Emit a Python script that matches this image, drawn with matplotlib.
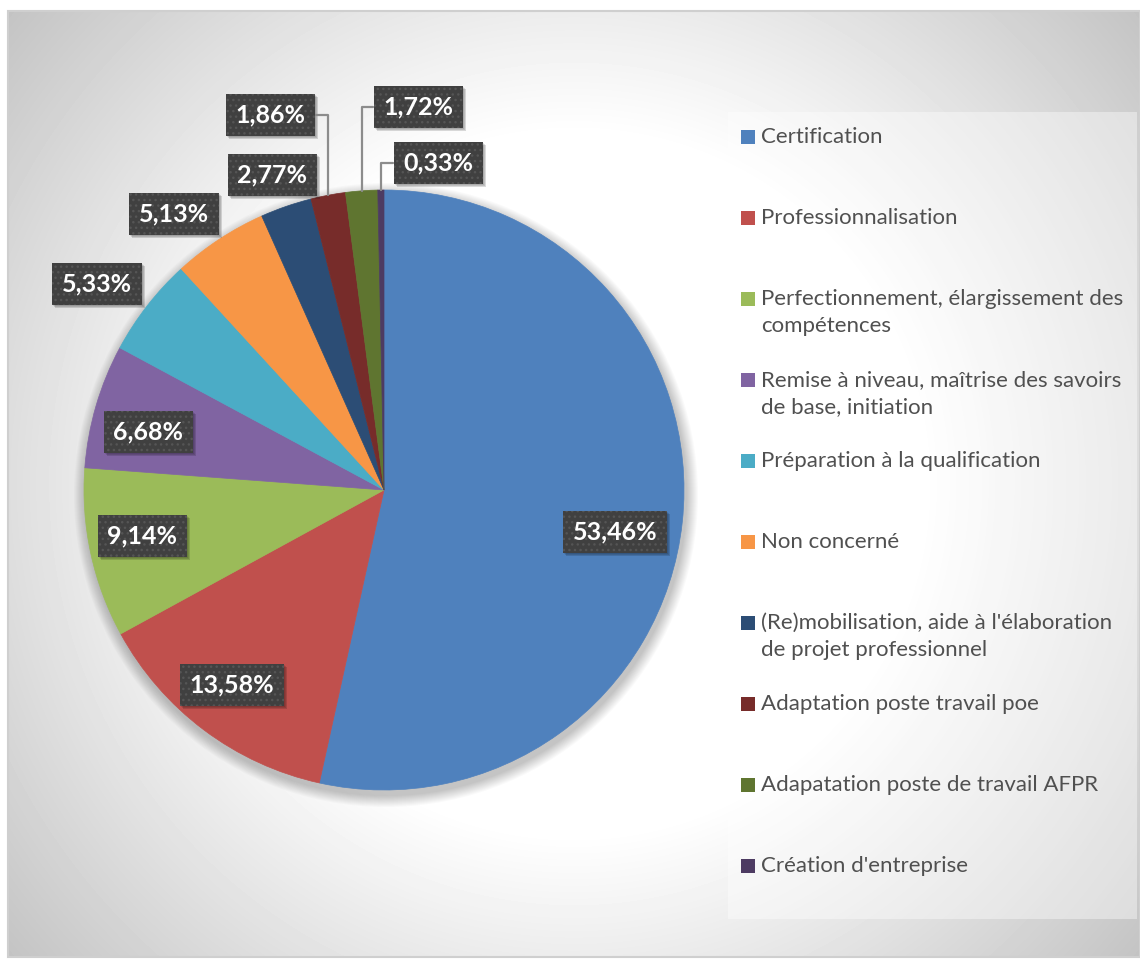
import textwrap
import numpy as np
import matplotlib
matplotlib.use("Agg")
import matplotlib.pyplot as plt
from matplotlib.patches import Rectangle, Circle

categories = [
    "Certification",
    "Professionnalisation",
    "Perfectionnement, élargissement des compétences",
    "Remise à niveau, maîtrise des savoirs de base, initiation",
    "Préparation à la qualification",
    "Non concerné",
    "(Re)mobilisation, aide à l'élaboration de projet professionnel",
    "Adaptation poste travail poe",
    "Adapatation poste de travail AFPR",
    "Création d'entreprise",
]
values = [53.46, 13.58, 9.14, 6.68, 5.33, 5.13, 2.77, 1.86, 1.72, 0.33]
colors = ["#4F81BD", "#C0504D", "#9BBB59", "#8064A2", "#4BACC6",
          "#F79646", "#2C4D75", "#772C2A", "#5F7530", "#4D3B62"]

# label box centres (image pixels) and which labels get a leader line
label_pos = [(615, 532), (232, 685), (142, 536), (148, 432), (97, 284),
             (174, 214), (272, 175), (270, 115), (418, 107), (438, 163)]
leader = [False] * 7 + [True] * 3

W, H = 1140, 963
CX, CY, R = 384, 490, 300

plt.rcParams["font.family"] = ["Lato", "DejaVu Sans"]

fig = plt.figure(figsize=(W / 100, H / 100), dpi=100)
ax = fig.add_axes([0, 0, 1, 1])
ax.set_xlim(0, W)
ax.set_ylim(0, H)

# chart area background: radial gradient
xs = np.arange(8, 1140) + 0.5
ys = np.arange(11, 957) + 0.5
gx, gy = np.meshgrid(xs, ys)
d = np.hypot(gx - 574, gy - 484)
bg = np.clip(255 - 60 * (d - 350) / 390, 195, 255) / 255
ax.imshow(bg, cmap="gray", vmin=0, vmax=1, extent=(8, 1140, H - 957, H - 11),
          origin="upper", aspect="auto", zorder=0, interpolation="bilinear")
ax.add_patch(Rectangle((8, H - 957), 1132, 946, fill=False,
                       edgecolor="#cfcfcf", lw=1.5, zorder=8))

# legend panel
ax.add_patch(Rectangle((728, H - 919), 409, 807, facecolor="white",
                       alpha=0.4, lw=0, zorder=1))

# soft pie shadow
for k in range(12):
    ax.add_patch(Circle((CX + 2, H - CY - 5), R + 12 - k, color="black",
                        alpha=0.018, lw=0, zorder=2))

wedges, _ = ax.pie(values, colors=colors, startangle=90, counterclock=False,
                   radius=R, center=(CX, H - CY),
                   wedgeprops=dict(linewidth=0.5, edgecolor="none"))
for w, c in zip(wedges, colors):
    w.set_edgecolor(c)
    w.set_zorder(3)

labels = []
for w, v, (lx, ly), lead in zip(wedges, values, label_pos, leader):
    ang = np.deg2rad((w.theta1 + w.theta2) / 2)
    edge = (CX + R * np.cos(ang), H - CY + R * np.sin(ang))
    txt = f"{v:.2f}%".replace(".", ",")
    arrow = None
    if lead:
        arrow = dict(arrowstyle="-", color="#8c8c8c", lw=1.6,
                     connectionstyle="angle,angleA=0,angleB=90,rad=0",
                     shrinkA=0, shrinkB=0)
    t = ax.annotate(txt, xy=edge, xytext=(lx, H - ly), color="white", zorder=6,
                    fontsize=18, fontweight="bold", ha="center", va="center",
                    bbox=dict(boxstyle="square,pad=0.38", facecolor="#404040",
                              edgecolor="#555555", lw=0, hatch="..."),
                    arrowprops=arrow, annotation_clip=False)
    labels.append(t)

# legend
slot0, step = 137, 81
for i, (name, c) in enumerate(zip(categories, colors)):
    y = slot0 + i * step
    ax.add_patch(Rectangle((741, H - y - 7), 14, 14, facecolor=c, lw=0, zorder=4))
    ax.text(761, H - y + 10, textwrap.fill(name, 38), ha="left", va="top",
            fontsize=16, color="#505050", zorder=4, linespacing=1.45)

ax.set_xlim(0, W)
ax.set_ylim(0, H)
ax.set_aspect("auto")
ax.axis("off")

# drop shadows behind the label boxes
fig.canvas.draw()
inv = ax.transData.inverted()
for t in labels:
    ext = t.get_bbox_patch().get_window_extent()
    (x0, y0), (x1, y1) = inv.transform([[ext.x0, ext.y0], [ext.x1, ext.y1]])
    for k, a in enumerate([0.10, 0.12, 0.14]):
        ax.add_patch(Rectangle((x0 + 1 + k, y0 - 1 - k), x1 - x0, y1 - y0,
                               facecolor="black", alpha=a, lw=0, zorder=5))

fig.savefig("out.png", dpi=100, facecolor="white")
